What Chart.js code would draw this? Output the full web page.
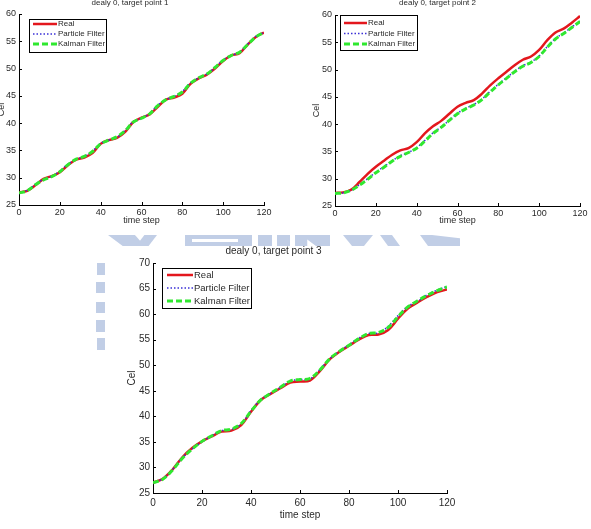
<!DOCTYPE html>
<html lang="en">
<head>
<meta charset="UTF-8">
<title>dealy 0 - target points</title>
<script src="https://cdn.jsdelivr.net/npm/chart.js"></script>
<style>
  body { margin: 0; background: #fff; }
  .page { position: relative; width: 591px; height: 529px; overflow: hidden; background: #fff; }
  .plot { position: absolute; }
  .wm { position: absolute; background: #c1cee6; }
</style>
</head>
<body>
<div class="page">
  <!-- faint watermark behind the plots -->
  <div class="wm" style="left:108px;top:235px;width:49px;height:11px;clip-path:polygon(0 0,55% 0,75% 100%,30% 100%);"></div>
  <div class="wm" style="left:136px;top:235px;width:21px;height:11px;clip-path:polygon(40% 0,100% 0,60% 100%,0 100%);"></div>
  <div class="wm" style="left:185px;top:235px;width:67px;height:11px;"></div>
  <div style="position:absolute;left:192px;top:239px;width:46px;height:3px;background:#fff;"></div>
  <div class="wm" style="left:258px;top:235px;width:14px;height:11px;"></div>
  <div class="wm" style="left:277px;top:235px;width:13px;height:11px;"></div>
  <div class="wm" style="left:295px;top:235px;width:35px;height:11px;clip-path:polygon(0 0,100% 0,100% 100%,60% 100%,35% 40%,35% 100%,0 100%);"></div>
  <div class="wm" style="left:343px;top:235px;width:30px;height:11px;clip-path:polygon(0 0,100% 0,70% 100%,30% 100%);"></div>
  <div class="wm" style="left:380px;top:235px;width:20px;height:11px;clip-path:polygon(0 0,60% 0,100% 100%,40% 100%);"></div>
  <div class="wm" style="left:420px;top:235px;width:40px;height:11px;clip-path:polygon(0 0,30% 0,100% 30%,100% 100%,20% 100%);"></div>
  <div class="wm" style="left:97px;top:263px;width:8px;height:12px;"></div>
  <div class="wm" style="left:96px;top:282px;width:9px;height:11px;"></div>
  <div class="wm" style="left:96px;top:302px;width:9px;height:11px;"></div>
  <div class="wm" style="left:96px;top:320px;width:9px;height:12px;"></div>
  <div class="wm" style="left:97px;top:338px;width:8px;height:12px;"></div>

  <div class="plot" style="left:-4px;top:-2px;"><canvas id="plot1" width="300" height="230"></canvas></div>
  <div class="plot" style="left:295px;top:-2px;"><canvas id="plot2" width="296" height="230"></canvas></div>
  <div class="plot" style="left:100px;top:245px;"><canvas id="plot3" width="400" height="284"></canvas></div>
</div>

<script>
// time steps shared by all three plots
var timeSteps = [0, 4, 8, 12, 16, 20, 24, 28, 32, 36, 40, 44, 48, 52, 56, 60,
                 64, 68, 72, 76, 80, 84, 88, 92, 96, 100, 104, 108, 112, 116, 120];

var seriesNames = ['Real', 'Particle Filter', 'Kalman Filter'];

// target point 1
var real1 = [27.3, 27.6, 28.6, 29.8, 30.3, 31.0, 32.3, 33.3, 33.7, 34.5, 36.2, 36.9, 37.3, 38.4, 40.2, 41.0,
             41.6, 43.0, 44.3, 44.7, 45.4, 47.2, 48.2, 48.9, 50.0, 51.4, 52.4, 52.8, 54.4, 55.8, 56.6];
var pf1   = [27.2, 27.7, 28.8, 29.7, 30.3, 31.2, 32.5, 33.4, 33.9, 34.9, 36.3, 36.9, 37.4, 38.7, 40.3, 40.9,
             41.8, 43.3, 44.3, 44.9, 45.8, 47.4, 48.3, 49.0, 50.2, 51.6, 52.4, 53.0, 54.5, 55.9, 56.6];
var kf1   = [27.2, 27.6, 28.7, 29.6, 30.2, 31.1, 32.4, 33.4, 33.9, 34.8, 36.2, 36.9, 37.5, 38.6, 40.2, 40.9,
             41.7, 43.2, 44.3, 44.9, 45.7, 47.3, 48.3, 49.0, 50.2, 51.5, 52.4, 53.0, 54.4, 55.8, 56.6];

// target point 2
var real2 = [27.4, 27.5, 28.0, 29.4, 30.9, 32.2, 33.3, 34.4, 35.2, 35.6, 36.7, 38.3, 39.6, 40.6, 41.9, 43.2,
             43.9, 44.4, 45.6, 47.1, 48.4, 49.6, 50.8, 51.8, 52.4, 53.6, 55.4, 56.8, 57.5, 58.6, 59.8];
var pf2   = [27.3, 27.4, 27.9, 28.9, 30.0, 31.2, 32.2, 33.3, 34.2, 34.8, 35.7, 37.0, 38.4, 39.5, 40.7, 42.0,
             42.9, 43.6, 44.6, 46.0, 47.3, 48.5, 49.7, 50.7, 51.4, 52.5, 54.2, 55.7, 56.7, 57.8, 58.9];
var kf2   = [27.3, 27.4, 27.9, 28.8, 29.9, 31.1, 32.1, 33.2, 34.1, 34.8, 35.6, 36.9, 38.3, 39.4, 40.7, 41.9,
             42.8, 43.5, 44.5, 45.9, 47.2, 48.4, 49.6, 50.6, 51.3, 52.4, 54.1, 55.6, 56.6, 57.7, 58.8];

// target point 3
var real3 = [27.0, 27.8, 29.6, 32.0, 33.8, 35.1, 36.1, 37.0, 37.2, 38.3, 40.9, 43.2, 44.4, 45.5, 46.6, 46.8,
             47.0, 48.8, 51.1, 52.6, 53.8, 55.0, 55.9, 56.0, 56.9, 59.1, 61.1, 62.3, 63.4, 64.3, 64.8];
var pf3   = [27.0, 27.8, 29.6, 31.9, 33.6, 35.0, 36.2, 37.2, 37.4, 38.5, 41.1, 43.3, 44.5, 45.7, 46.9, 47.2,
             47.3, 49.1, 51.2, 52.7, 54.0, 55.3, 56.2, 56.3, 57.6, 59.7, 61.5, 62.5, 63.8, 64.7, 65.4];
var kf3   = [27.0, 27.7, 29.5, 31.8, 33.6, 35.1, 36.2, 37.2, 37.5, 38.6, 41.0, 43.2, 44.5, 45.7, 46.9, 47.2,
             47.4, 49.0, 51.2, 52.7, 53.9, 55.2, 56.2, 56.4, 57.4, 59.5, 61.4, 62.6, 63.7, 64.6, 65.3];

var FONT = '"Liberation Sans", Arial, sans-serif';
var TEXT = '#2a2a2a';

// boxed legend inside the axes, matlab style
var boxLegend = {
  id: 'boxLegend',
  afterDatasetsDraw: function (chart, args, o) {
    var ctx = chart.ctx, a = chart.chartArea;
    var x = a.left + o.x, y = a.top + o.y;
    ctx.save();
    ctx.fillStyle = '#fff';
    ctx.fillRect(x, y, o.w, o.h);
    ctx.strokeStyle = '#000';
    ctx.lineWidth = 1;
    ctx.strokeRect(x + 0.5, y + 0.5, o.w, o.h);
    ctx.font = o.size + 'px ' + FONT;
    ctx.textBaseline = 'middle';
    chart.data.datasets.forEach(function (ds, i) {
      var ry = y + o.first + i * o.row;
      ctx.beginPath();
      ctx.setLineDash(ds.borderDash || []);
      ctx.strokeStyle = ds.borderColor;
      ctx.lineWidth = ds.borderWidth;
      ctx.moveTo(x + o.lx, ry);
      ctx.lineTo(x + o.lx + o.len, ry);
      ctx.stroke();
      ctx.setLineDash([]);
      ctx.fillStyle = TEXT;
      ctx.fillText(ds.label, x + o.lx + o.len + 1, ry);
    });
    ctx.restore();
  }
};

// small tick marks pointing into the axes
var inTicks = {
  id: 'inTicks',
  afterDraw: function (chart) {
    var ctx = chart.ctx, a = chart.chartArea;
    var xs = chart.scales.x, ys = chart.scales.y;
    ctx.save();
    ctx.strokeStyle = '#000';
    ctx.lineWidth = 1;
    ctx.beginPath();
    xs.ticks.forEach(function (t) {
      var px = Math.round(xs.getPixelForValue(t.value)) + 0.5;
      ctx.moveTo(px, a.bottom);
      ctx.lineTo(px, a.bottom - 3);
    });
    ys.ticks.forEach(function (t) {
      var py = Math.round(ys.getPixelForValue(t.value)) + 0.5;
      ctx.moveTo(a.left, py);
      ctx.lineTo(a.left + 3, py);
    });
    ctx.stroke();
    ctx.restore();
  }
};

function pts(vals) {
  return timeSteps.map(function (t, i) { return { x: t, y: vals[i] }; });
}

function makePlot(id, c) {
  var datasets = [
    { label: seriesNames[0], data: pts(c.real), borderColor: '#e3171d', borderWidth: 2.5, order: 3 },
    { label: seriesNames[1], data: pts(c.pf), borderColor: '#3a2fd6', borderWidth: 1.5, borderDash: [1.5, 2], order: 2 },
    { label: seriesNames[2], data: pts(c.kf), borderColor: '#2fe82f', borderWidth: 3, borderDash: [6, 3], order: 1 }
  ];
  return new Chart(document.getElementById(id), {
    type: 'line',
    data: { datasets: datasets },
    options: {
      responsive: false,
      animation: false,
      layout: { padding: { left: 0, right: c.padRight, top: 0, bottom: 0 } },
      elements: { point: { radius: 0 }, line: { tension: 0.35, fill: false } },
      plugins: {
        legend: { display: false },
        tooltip: { enabled: false },
        title: {
          display: true,
          text: c.title,
          color: TEXT,
          font: { family: FONT, size: c.titleSize, weight: 'normal' },
          padding: { top: 0, bottom: c.titlePad }
        },
        boxLegend: c.legend
      },
      scales: {
        x: {
          type: 'linear',
          min: 0, max: 120,
          afterFit: function (s) { s.height = c.xH; },
          grid: { display: false, drawTicks: false },
          border: { display: true, color: '#000', width: 1 },
          ticks: { stepSize: 20, padding: c.xPad, color: TEXT, maxRotation: 0, font: { family: FONT, size: c.tickSize } },
          title: { display: true, text: 'time step', color: TEXT, font: { family: FONT, size: c.tickSize }, padding: { top: 0, bottom: c.xTitlePad } }
        },
        y: {
          min: c.yMin, max: c.yMax,
          afterFit: function (s) { s.width = c.yW; },
          grid: { display: false, drawTicks: false },
          border: { display: true, color: '#000', width: 1 },
          ticks: { stepSize: 5, padding: 3, color: TEXT, font: { family: FONT, size: c.tickSize } },
          title: { display: true, text: 'Cel', color: TEXT, font: { family: FONT, size: c.tickSize }, padding: { top: c.yTitlePad, bottom: 0 } }
        }
      }
    },
    plugins: [boxLegend, inTicks]
  });
}

makePlot('plot1', {
  title: 'dealy 0, target point 1', real: real1, pf: pf1, kf: kf1,
  yMin: 25, yMax: 60, padRight: 32, yW: 23, xH: 23,
  titleSize: 8, titlePad: 6.4, tickSize: 9, xPad: 2, xTitlePad: 2, yTitlePad: 0,
  legend: { x: 10, y: 5, w: 77, h: 33, first: 5, row: 10, lx: 4, len: 24, size: 8 }
});

makePlot('plot2', {
  title: 'dealy 0, target point 2', real: real2, pf: pf2, kf: kf2,
  yMin: 25, yMax: 60, padRight: 11, yW: 40, xH: 22,
  titleSize: 8, titlePad: 7.4, tickSize: 9, xPad: 2, xTitlePad: 2, yTitlePad: 16,
  legend: { x: 5, y: 0, w: 77, h: 35, first: 8, row: 10.5, lx: 4, len: 23, size: 8 }
});

makePlot('plot3', {
  title: 'dealy 0, target point 3', real: real3, pf: pf3, kf: kf3,
  yMin: 25, yMax: 70, padRight: 53, yW: 53, xH: 36,
  titleSize: 10, titlePad: 6, tickSize: 10, xPad: 4, xTitlePad: 8, yTitlePad: 26,
  legend: { x: 9, y: 5, w: 89, h: 40, first: 7, row: 13, lx: 5, len: 26, size: 9.5 }
});
</script>
</body>
</html>
